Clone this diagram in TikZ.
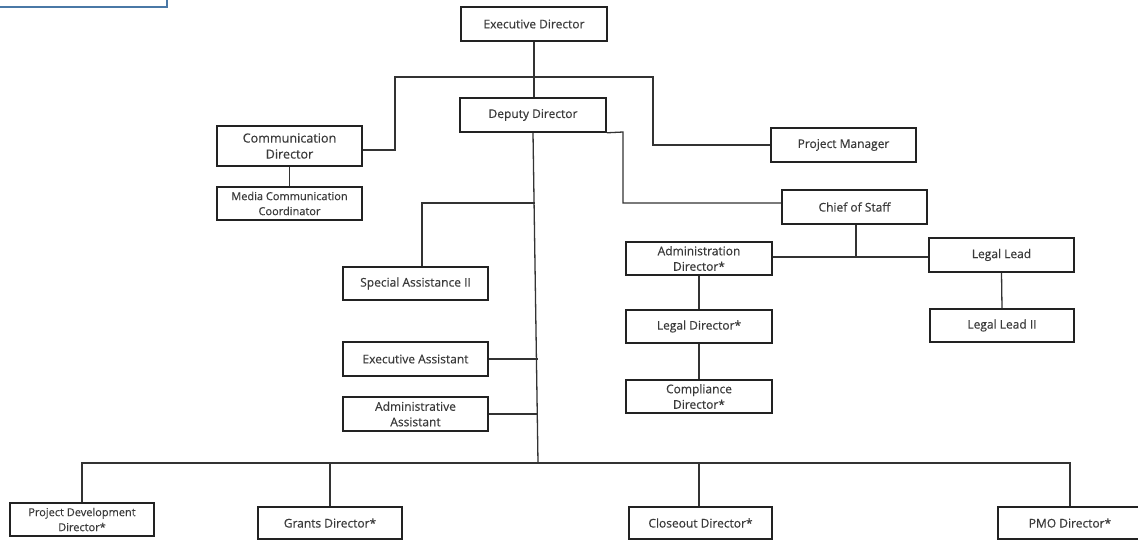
\documentclass[tikz,border=0pt]{standalone}
\usepackage{fontspec}
\setmainfont{Open Sans}
\newfontfamily\boxfont{Open Sans}[FakeBold=0.35]
\usetikzlibrary{calc}
\definecolor{boxline}{HTML}{222222}
\definecolor{conn}{HTML}{333333}
\definecolor{txt}{HTML}{3A3A3A}
\definecolor{bluebox}{HTML}{4A78A6}
\tikzset{
  box/.style={draw=boxline, line width=1.6pt, fill=white, text=txt, align=center,
    inner sep=1pt, font=\boxfont\fontsize{12}{15.5}\selectfont},
  bigbox/.style={box, font=\boxfont\fontsize{12.6}{16}\selectfont},
  smallbox/.style={box, font=\boxfont\fontsize{11}{15}\selectfont},
  conn/.style={draw=conn, line width=1.3pt},
}
\begin{document}
\begin{tikzpicture}[x=1pt,y=-1pt]
\useasboundingbox (0,0) rectangle (1138,541);
\fill[white] (0,0) rectangle (1138,541);
% partial blue frame at the top-left
\draw[bluebox, line width=1.3pt] (-5,-20) rectangle (167,7);

% nodes
\node[box, minimum width=146pt, minimum height=34pt] (ED) at (534,24) {Executive Director};
\node[box, minimum width=146pt, minimum height=34pt] (DD) at (533,115) {Deputy Director};
\node[bigbox, minimum width=145pt, minimum height=40pt] (CD) at (289.5,146) {Communication\\Director};
\node[smallbox, minimum width=145pt, minimum height=33pt] (MCC) at (289.5,203.5) {Media Communication\\Coordinator};
\node[box, minimum width=145pt, minimum height=34pt] (PM) at (843.5,145) {Project Manager};
\node[box, minimum width=145pt, minimum height=34pt] (CoS) at (854.5,207) {Chief of Staff};
\node[box, minimum width=145pt, minimum height=33pt] (SA) at (415.5,283.5) {Special Assistance II};
\node[box, minimum width=145pt, minimum height=34pt] (EA) at (415.5,359) {Executive Assistant};
\node[box, minimum width=145pt, minimum height=34pt] (AA) at (415.5,414) {Administrative\\Assistant};
\node[box, minimum width=146pt, minimum height=33pt] (AdD) at (699,258.5) {Administration\\Director*};
\node[box, minimum width=146pt, minimum height=33pt] (LD) at (699,326.5) {Legal Director*};
\node[box, minimum width=146pt, minimum height=33pt] (CompD) at (699,396.5) {Compliance\\Director*};
\node[box, minimum width=145pt, minimum height=34pt] (LL) at (1001.5,255) {Legal Lead};
\node[box, minimum width=144pt, minimum height=33pt] (LL2) at (1002,325.5) {Legal Lead II};
\node[smallbox, minimum width=144pt, minimum height=33pt] (PDD) at (82,519.5) {Project Development\\Director*};
\node[box, minimum width=144pt, minimum height=32pt] (GD) at (330,523) {Grants Director*};
\node[box, minimum width=143pt, minimum height=32pt] (CloD) at (700.5,523) {Closeout Director*};
\node[box, minimum width=144pt, minimum height=32pt] (PMO) at (1070,523) {PMO Director*};

% coordinates for bends
\coordinate (c1) at (395,77);
\coordinate (c2) at (653,77);
\coordinate (c3) at (623,132);
\coordinate (tb) at (538,463);
\coordinate (j1) at (534.5,203);
\coordinate (j2) at (856,257);

% connectors
\draw[conn] ([yshift=-4pt]CD.east) -| (c1) -- (c2) |- (PM.west);
\draw[conn] (ED.south) -- (ED.south |- DD.north);
\draw[conn] (DD.south east) -- (c3) |- ([yshift=4pt]CoS.west);
\draw[conn] (DD.south) -- (tb);
\draw[conn] (j1) -| ([xshift=6.5pt]SA.north);
\draw[conn] (EA.east) -- (EA.east -| tb);
\draw[conn] (AA.east) -- (AA.east -| tb);
\draw[conn] (PDD.north) -- (PDD.north |- tb) -- (PMO.north |- tb) -- (PMO.north);
\draw[conn] (GD.north) -- (GD.north |- tb);
\draw[conn] ([xshift=-1.5pt]CloD.north) -- ([xshift=-1.5pt]CloD.north |- tb);
\draw[conn] (CD.south) -- (MCC.north);
\draw[conn] ([xshift=1.5pt]CoS.south) -- (j2);
\draw[conn] ([yshift=1.5pt]AdD.east) -- ([yshift=-2pt]LL.west);
\draw[conn] (AdD.south) -- (LD.north);
\draw[conn] (LD.south) -- (CompD.north);
\draw[conn] (LL.south) -- (LL2.north);
\end{tikzpicture}
\end{document}
